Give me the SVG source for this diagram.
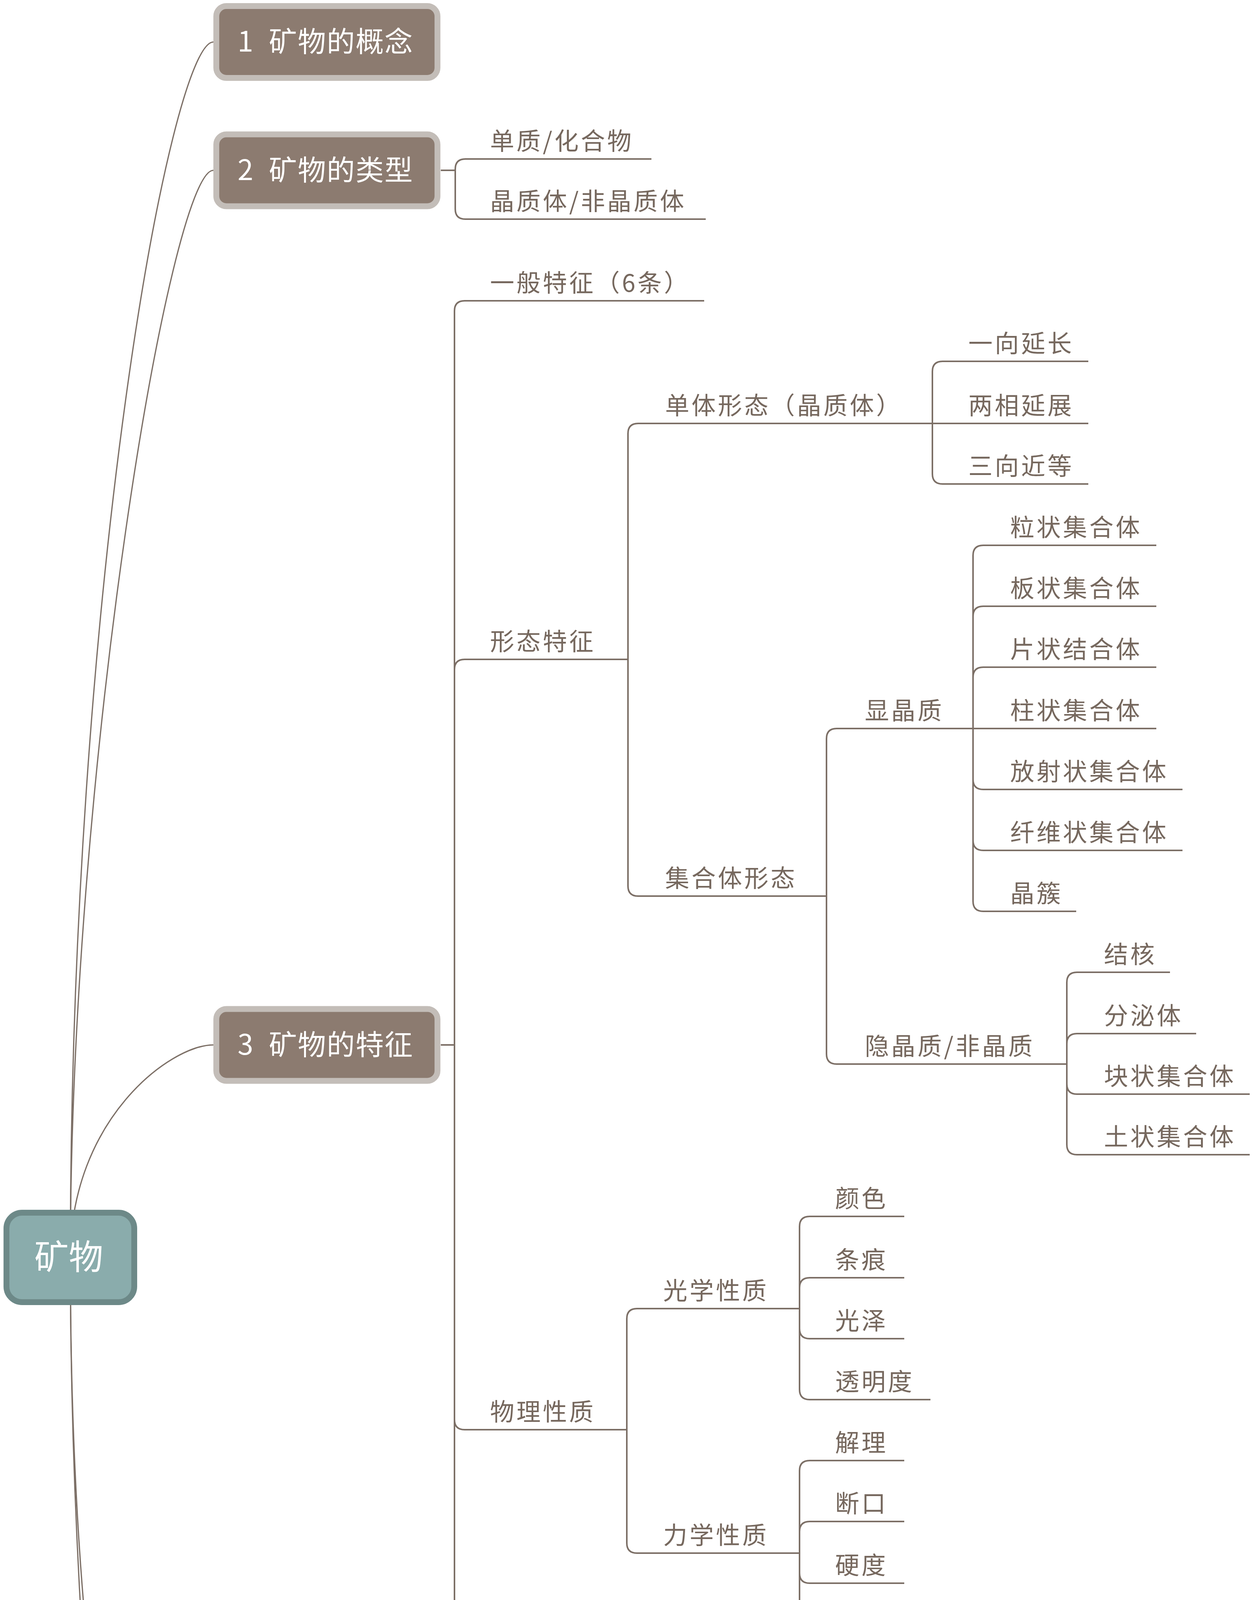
<svg xmlns="http://www.w3.org/2000/svg" width="3209" height="6438" viewBox="0 0 3209 6438">
<style>
.c{fill:none;stroke:#7c6f66;stroke-width:4}
.rc{fill:none;stroke:#7c6f66;stroke-width:3.2}
.u{stroke:#7c6f66;stroke-width:4}
.t{font-family:"Noto Sans CJK SC","Noto Sans CJK JP",sans-serif;font-size:62px;fill:#76685e;letter-spacing:5.5px}
.nb{fill:#8c7b70;stroke:#c3bdb8;stroke-width:15}
.nt{font-family:"Noto Sans CJK SC","Noto Sans CJK JP",sans-serif;font-size:72px;fill:#ffffff;letter-spacing:2px}
.rb{fill:#8aacac;stroke:#6d8988;stroke-width:15}
.rt{font-family:"Noto Sans CJK SC","Noto Sans CJK JP",sans-serif;font-size:88px;fill:#ffffff}
</style>
<rect x="0" y="0" width="3209" height="6438" fill="#ffffff"/>
<g id="connectors">
<path class="rc" d="M180,3220 C180,1508 436,107.5 546,107.5"/>
<path class="rc" d="M180,3220 C180,1967 436,436 546,436"/>
<path class="rc" d="M180,3220 C180,2866 436,2675 546,2675"/>
<path class="rc" d="M180,3220 C180,4717 436,5422 546,5422"/>
<path class="rc" d="M180,3220 C180,4775 436,6330 546,6330"/>
<path class="c" d="M1128,436 H1165"/>
<path class="c" d="M1165,436 V433 Q1165,407 1191,407"/>
<path class="c" d="M1165,436 V535 Q1165,561 1191,561"/>
<path class="c" d="M1128,2675 H1163"/>
<path class="c" d="M1163,2675 V796 Q1163,770 1189,770"/>
<path class="c" d="M1163,2675 V1714 Q1163,1688 1189,1688"/>
<path class="c" d="M1163,2675 V3634 Q1163,3660 1189,3660"/>
<path class="c" d="M1163,2675 V4651 Q1163,4677 1189,4677"/>
<path class="c" d="M1607,1688 V1110 Q1607,1084 1633,1084"/>
<path class="c" d="M1607,1688 V2268 Q1607,2294 1633,2294"/>
<path class="c" d="M2386,1084 V951 Q2386,925 2412,925"/>
<path class="c" d="M2386,1084 H2412"/>
<path class="c" d="M2386,1084 V1213 Q2386,1239 2412,1239"/>
<path class="c" d="M2115,2294 V1891 Q2115,1865 2141,1865"/>
<path class="c" d="M2115,2294 V2698 Q2115,2724 2141,2724"/>
<path class="c" d="M2490,1865 V1422 Q2490,1396 2516,1396"/>
<path class="c" d="M2490,1865 V1578 Q2490,1552 2516,1552"/>
<path class="c" d="M2490,1865 V1734 Q2490,1708 2516,1708"/>
<path class="c" d="M2490,1865 H2516"/>
<path class="c" d="M2490,1865 V1995 Q2490,2021 2516,2021"/>
<path class="c" d="M2490,1865 V2151 Q2490,2177 2516,2177"/>
<path class="c" d="M2490,1865 V2307 Q2490,2333 2516,2333"/>
<path class="c" d="M2730,2724 V2515 Q2730,2489 2756,2489"/>
<path class="c" d="M2730,2724 V2672 Q2730,2646 2756,2646"/>
<path class="c" d="M2730,2724 V2775 Q2730,2801 2756,2801"/>
<path class="c" d="M2730,2724 V2930 Q2730,2956 2756,2956"/>
<path class="c" d="M1604,3660 V3376 Q1604,3350 1630,3350"/>
<path class="c" d="M1604,3660 V3950 Q1604,3976 1630,3976"/>
<path class="c" d="M2046,3350 V3140 Q2046,3114 2072,3114"/>
<path class="c" d="M2046,3350 V3297 Q2046,3271 2072,3271"/>
<path class="c" d="M2046,3350 V3401 Q2046,3427 2072,3427"/>
<path class="c" d="M2046,3350 V3557 Q2046,3583 2072,3583"/>
<path class="c" d="M2046,3976 V3765 Q2046,3739 2072,3739"/>
<path class="c" d="M2046,3976 V3921 Q2046,3895 2072,3895"/>
<path class="c" d="M2046,3976 V4027 Q2046,4053 2072,4053"/>
<path class="c" d="M2046,3976 V4182 Q2046,4208 2072,4208"/>
<path class="c" d="M1604,4677 V4390 Q1604,4364 1630,4364"/>
<path class="c" d="M1604,4677 V4547 Q1604,4521 1630,4521"/>
<path class="c" d="M1604,4677 H1630"/>
<path class="c" d="M1604,4677 V4808 Q1604,4834 1630,4834"/>
<path class="c" d="M1604,4677 V4964 Q1604,4990 1630,4990"/>
<path class="c" d="M1128,5422 H1163"/>
<path class="c" d="M1163,5422 V5223 Q1163,5197 1189,5197"/>
<path class="c" d="M1163,5422 V5719 Q1163,5745 1189,5745"/>
<path class="c" d="M1671,5745 V5380 Q1671,5354 1697,5354"/>
<path class="c" d="M1671,5745 V5537 Q1671,5511 1697,5511"/>
<path class="c" d="M1671,5745 V5692 Q1671,5666 1697,5666"/>
<path class="c" d="M1671,5745 V5796 Q1671,5822 1697,5822"/>
<path class="c" d="M1671,5745 V5953 Q1671,5979 1697,5979"/>
<path class="c" d="M1671,5745 V6109 Q1671,6135 1697,6135"/>
<path class="c" d="M1055,6330 H1075 Q1087,6330 1087,6342 V6370 Q1087,6382 1099,6382"/>
</g>
<g id="root">
<rect class="rb" x="16.5" y="3104.5" width="327" height="229" rx="40"/>
<text class="rt" x="176" y="3249" text-anchor="middle">矿物</text>
</g>
<g id="n1">
<rect class="nb" x="553.5" y="15.5" width="566" height="184" rx="26"/>
<text class="nt" y="132"><tspan x="608">1</tspan> <tspan x="688">矿物的概念</tspan></text>
</g>
<g id="n2">
<rect class="nb" x="553.5" y="344" width="566" height="184" rx="26"/>
<text class="nt" y="460.5"><tspan x="608">2</tspan> <tspan x="688">矿物的类型</tspan></text>
</g>
<g id="n3">
<rect class="nb" x="553.5" y="2583" width="566" height="184" rx="26"/>
<text class="nt" y="2699.5"><tspan x="608">3</tspan> <tspan x="688">矿物的特征</tspan></text>
</g>
<g id="n4">
<rect class="nb" x="553.5" y="5330" width="566" height="184" rx="26"/>
<text class="nt" y="5446.5"><tspan x="608">4</tspan> <tspan x="688">矿物的分类</tspan></text>
</g>
<g id="n5">
<rect class="nb" x="553.5" y="6238.5" width="494" height="184" rx="26"/>
<text class="nt" y="6355"><tspan x="608">5</tspan> <tspan x="692">宝石矿物</tspan></text>
</g>
<g id="n2-1"><line class="u" x1="1191" y1="407" x2="1667" y2="407"/><text class="t" x="1254" y="384">单质/化合物</text></g>
<g id="n2-2"><line class="u" x1="1191" y1="561" x2="1806" y2="561"/><text class="t" x="1254" y="538">晶质体/非晶质体</text></g>
<g id="n3-1"><line class="u" x1="1189" y1="770" x2="1802" y2="770"/><text class="t" x="1254" y="747">一般特征（6条）</text></g>
<g id="n3-2"><line class="u" x1="1189" y1="1688" x2="1607" y2="1688"/><text class="t" x="1254" y="1665">形态特征</text></g>
<g id="n3-2-1"><line class="u" x1="1633" y1="1084" x2="2386" y2="1084"/><text class="t" x="1702" y="1061">单体形态（晶质体）</text></g>
<g id="n3-2-1-1"><line class="u" x1="2412" y1="925" x2="2785" y2="925"/><text class="t" x="2478" y="902">一向延长</text></g>
<g id="n3-2-1-2"><line class="u" x1="2412" y1="1084" x2="2785" y2="1084"/><text class="t" x="2478" y="1061">两相延展</text></g>
<g id="n3-2-1-3"><line class="u" x1="2412" y1="1239" x2="2785" y2="1239"/><text class="t" x="2478" y="1216">三向近等</text></g>
<g id="n3-2-2"><line class="u" x1="1633" y1="2294" x2="2115" y2="2294"/><text class="t" x="1702" y="2271">集合体形态</text></g>
<g id="n3-2-2-1"><line class="u" x1="2141" y1="1865" x2="2490" y2="1865"/><text class="t" x="2213" y="1842">显晶质</text></g>
<g id="n3-2-2-1-1"><line class="u" x1="2516" y1="1396" x2="2959" y2="1396"/><text class="t" x="2585" y="1373">粒状集合体</text></g>
<g id="n3-2-2-1-2"><line class="u" x1="2516" y1="1552" x2="2959" y2="1552"/><text class="t" x="2585" y="1529">板状集合体</text></g>
<g id="n3-2-2-1-3"><line class="u" x1="2516" y1="1708" x2="2959" y2="1708"/><text class="t" x="2585" y="1685">片状结合体</text></g>
<g id="n3-2-2-1-4"><line class="u" x1="2516" y1="1865" x2="2959" y2="1865"/><text class="t" x="2585" y="1842">柱状集合体</text></g>
<g id="n3-2-2-1-5"><line class="u" x1="2516" y1="2021" x2="3026" y2="2021"/><text class="t" x="2585" y="1998">放射状集合体</text></g>
<g id="n3-2-2-1-6"><line class="u" x1="2516" y1="2177" x2="3026" y2="2177"/><text class="t" x="2585" y="2154">纤维状集合体</text></g>
<g id="n3-2-2-1-7"><line class="u" x1="2516" y1="2333" x2="2754" y2="2333"/><text class="t" x="2585" y="2310">晶簇</text></g>
<g id="n3-2-2-2"><line class="u" x1="2141" y1="2724" x2="2730" y2="2724"/><text class="t" x="2213" y="2701">隐晶质/非晶质</text></g>
<g id="n3-2-2-2-1"><line class="u" x1="2756" y1="2489" x2="2994" y2="2489"/><text class="t" x="2825" y="2466">结核</text></g>
<g id="n3-2-2-2-2"><line class="u" x1="2756" y1="2646" x2="3061" y2="2646"/><text class="t" x="2825" y="2623">分泌体</text></g>
<g id="n3-2-2-2-3"><line class="u" x1="2756" y1="2801" x2="3198" y2="2801"/><text class="t" x="2825" y="2778">块状集合体</text></g>
<g id="n3-2-2-2-4"><line class="u" x1="2756" y1="2956" x2="3198" y2="2956"/><text class="t" x="2825" y="2933">土状集合体</text></g>
<g id="n3-3"><line class="u" x1="1189" y1="3660" x2="1604" y2="3660"/><text class="t" x="1254" y="3637">物理性质</text></g>
<g id="n3-3-1"><line class="u" x1="1630" y1="3350" x2="2046" y2="3350"/><text class="t" x="1697" y="3327">光学性质</text></g>
<g id="n3-3-1-1"><line class="u" x1="2072" y1="3114" x2="2314" y2="3114"/><text class="t" x="2137" y="3091">颜色</text></g>
<g id="n3-3-1-2"><line class="u" x1="2072" y1="3271" x2="2314" y2="3271"/><text class="t" x="2137" y="3248">条痕</text></g>
<g id="n3-3-1-3"><line class="u" x1="2072" y1="3427" x2="2314" y2="3427"/><text class="t" x="2137" y="3404">光泽</text></g>
<g id="n3-3-1-4"><line class="u" x1="2072" y1="3583" x2="2381" y2="3583"/><text class="t" x="2137" y="3560">透明度</text></g>
<g id="n3-3-2"><line class="u" x1="1630" y1="3976" x2="2046" y2="3976"/><text class="t" x="1697" y="3953">力学性质</text></g>
<g id="n3-3-2-1"><line class="u" x1="2072" y1="3739" x2="2314" y2="3739"/><text class="t" x="2137" y="3716">解理</text></g>
<g id="n3-3-2-2"><line class="u" x1="2072" y1="3895" x2="2314" y2="3895"/><text class="t" x="2137" y="3872">断口</text></g>
<g id="n3-3-2-3"><line class="u" x1="2072" y1="4053" x2="2314" y2="4053"/><text class="t" x="2137" y="4030">硬度</text></g>
<g id="n3-3-2-4"><line class="u" x1="2072" y1="4208" x2="2314" y2="4208"/><text class="t" x="2137" y="4185">比重</text></g>
<g id="n3-4"><line class="u" x1="1189" y1="4677" x2="1604" y2="4677"/><text class="t" x="1254" y="4654">其他性质</text></g>
<g id="n3-4-1"><line class="u" x1="1630" y1="4364" x2="1870" y2="4364"/><text class="t" x="1698" y="4341">磁性</text></g>
<g id="n3-4-2"><line class="u" x1="1630" y1="4521" x2="1938" y2="4521"/><text class="t" x="1698" y="4498">导电性</text></g>
<g id="n3-4-3"><line class="u" x1="1630" y1="4677" x2="1870" y2="4677"/><text class="t" x="1698" y="4654">弹性</text></g>
<g id="n3-4-4"><line class="u" x1="1630" y1="4834" x2="2005" y2="4834"/><text class="t" x="1698" y="4811">延展性等</text></g>
<g id="n3-4-5"><line class="u" x1="1630" y1="4990" x2="2546" y2="4990"/><text class="t" x="1698" y="4967">与化学试剂反应（碳酸根）</text></g>
<g id="n4-1"><line class="u" x1="1189" y1="5197" x2="1698" y2="5197"/><text class="t" x="1260" y="5174">自然元素矿物</text></g>
<g id="n4-2"><line class="u" x1="1189" y1="5745" x2="1671" y2="5745"/><text class="t" x="1260" y="5722">阴离子分类</text></g>
<g id="n4-2-1"><line class="u" x1="1697" y1="5354" x2="2006" y2="5354"/><text class="t" x="1771" y="5331">卤化物</text></g>
<g id="n4-2-2"><line class="u" x1="1697" y1="5511" x2="2006" y2="5511"/><text class="t" x="1771" y="5488">硫化物</text></g>
<g id="n4-2-3"><line class="u" x1="1697" y1="5666" x2="2343" y2="5666"/><text class="t" x="1771" y="5643">氧化物与氢氧化物</text></g>
<g id="n4-2-4"><line class="u" x1="1697" y1="5822" x2="2006" y2="5822"/><text class="t" x="1771" y="5799">硫酸盐</text></g>
<g id="n4-2-5"><line class="u" x1="1697" y1="5979" x2="2006" y2="5979"/><text class="t" x="1771" y="5956">碳酸盐</text></g>
<g id="n4-2-6"><line class="u" x1="1697" y1="6135" x2="2006" y2="6135"/><text class="t" x="1771" y="6112">硅酸盐</text></g>
<g id="n5-1"><line class="u" x1="1099" y1="6382" x2="3113" y2="6382"/><text class="t" x="1187" y="6359">自学（推荐选修姜立君老师开设的全校公选课《宝玉石鉴赏》）</text></g>
</svg>
